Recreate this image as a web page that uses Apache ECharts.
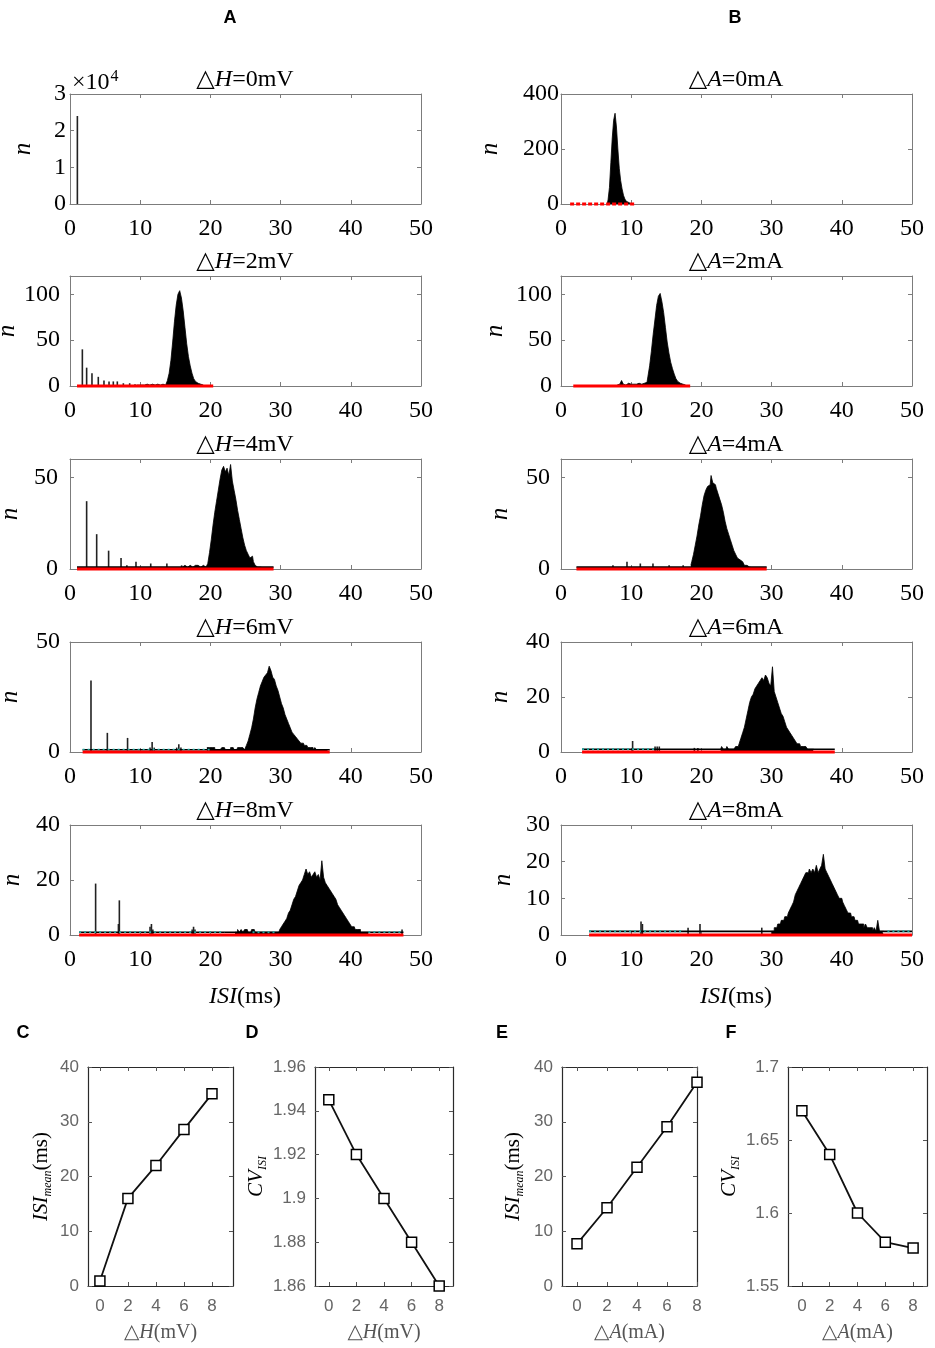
<!DOCTYPE html>
<html>
<head>
<meta charset="utf-8">
<title>ISI histograms</title>
<script src="https://cdn.jsdelivr.net/npm/echarts@6/dist/echarts.min.js"></script>
<style>
html, body { margin: 0; padding: 0; background: #fff; }
#main { width: 935px; height: 1348px; }
</style>
</head>
<body>
<div id="main"></div>
<script>
var SERIF = "'Liberation Serif','Times New Roman','DejaVu Serif',serif";
var SANS = "'Liberation Sans',Arial,'DejaVu Sans',sans-serif";

// ---------- A : ISI histograms for ΔH ----------
// ΔH = 0 mV (n in units of 10^4)
var h0SpikeX = [1.05];
var h0SpikeY = [2.4];

// ΔH = 2 mV
var h2SpikeX = [1.76, 2.37, 3.13, 4.03, 4.84, 5.56, 6.17, 6.74, 7.6, 8.5, 9.26];
var h2SpikeY = [40, 20, 14, 10, 6, 5, 5, 5, 3, 3, 2];
var h2BinStart = 9.5;
var h2Counts = [1, 1, 2, 1, 1, 1, 2, 1, 1, 2, 1, 2, 2, 1, 2, 2,
  1, 2, 6, 14, 28, 48, 70, 88, 100, 104, 96, 82, 64, 46, 32, 22, 14, 8, 5, 3, 2, 1, 1];
var h2Range = [1.0, 20.4];

// ΔH = 4 mV
var h4SpikeX = [2.37, 3.8, 5.5, 7.27, 8.1, 9.4, 11.5, 13.8, 15.9];
var h4SpikeY = [37, 19, 10, 6, 2, 4, 3, 3, 2];
var h4BinStart = 16.0;
var h4Counts = [1, 2, 1, 1, 2, 2, 1, 2, 2, 2, 1, 2, 2, 1,
  1, 3, 9, 16, 24, 31, 37, 43, 49, 54, 56, 53, 55, 51, 57, 48, 43, 38, 32, 27, 22, 17, 13, 10, 8, 6, 7, 4, 2, 1, 1, 1];
var h4Range = [1.0, 29.0];

// ΔH = 6 mV
var h6SpikeX = [2.99, 5.32, 8.2, 11.4, 11.7, 12.0, 15.2, 15.5, 15.8];
var h6SpikeY = [32.5, 8.7, 6.4, 2, 4.5, 2, 2, 3.5, 2];
var h6BinStart = 19.5;
var h6Counts = [2, 2, 2, 2, 2, 1, 1, 1, 1, 2, 2, 1, 1, 1, 2, 2, 1, 1, 2, 2, 2, 2,
  1, 3, 5, 8, 11, 15, 20, 24, 27, 30, 32, 34, 35, 36, 39, 37, 34, 33, 30, 28,
  25, 22, 20, 17, 15, 13, 11, 9, 8, 7, 6, 5, 4, 4, 3, 3, 2, 2, 2, 1, 2, 1, 1, 1, 1, 1, 1, 1];
var h6Range = [1.8, 37.0];
var h6Cyan = [[1.8, 20.0]];

// ΔH = 8 mV
var h8SpikeX = [3.65, 6.9, 7.03, 11.4, 11.6, 11.8, 17.4, 17.6, 17.8, 47.3];
var h8SpikeY = [18.7, 4, 12.6, 3, 4, 2, 2, 3, 2, 2];
var h8BinStart = 23.5;
var h8Counts = [1, 1, 2, 1, 2, 1, 2, 2, 1, 1, 2, 2, 1, 1, 1, 1, 1, 1, 1, 1, 1, 1, 1, 1,
  1, 1, 2, 3, 4, 5, 6, 8, 9, 11, 13, 14, 16, 18, 19, 20, 22, 24, 22, 23,
  21, 22, 23, 21, 22, 20, 27, 21, 19, 18, 17, 16, 15, 14, 13, 11, 10, 9, 8, 7,
  6, 5, 4, 3, 3, 2, 2, 2, 1, 1, 1, 1, 1];
var h8Range = [1.3, 47.5];
var h8Cyan = [[1.3, 22.0], [26.0, 29.5], [42.5, 47.5]];

// ---------- B : ISI histograms for ΔA ----------
// ΔA = 0 mA (bins of 0.2 ms)
var a0BinStart = 6.6;
var a0Counts = [3, 15, 60, 150, 240, 305, 330, 280, 200, 130, 85, 55, 32, 18, 10, 5, 2, 1];
var a0Range = [1.3, 10.5];

// ΔA = 2 mA
var a2BinStart = 8.0;
var a2Counts = [1, 2, 1, 6, 2, 1, 3, 1, 2, 2, 1, 2, 3, 2, 2, 3,
  2, 4, 10, 22, 38, 56, 72, 88, 98, 101, 92, 80, 64, 48, 36, 26, 19, 13, 8, 5, 3, 2, 1, 1];
var a2Range = [1.75, 18.4];

// ΔA = 4 mA
var a4SpikeX = [7.4, 9.4, 11.3, 13.1, 15.4, 17.4];
var a4SpikeY = [2, 4, 3, 3, 2, 2];
var a4BinStart = 18.5;
var a4Counts = [2, 4, 8, 13, 18, 24, 29, 35, 40, 43, 45, 46, 51, 47, 46, 44, 41, 38, 35, 31,
  26, 22, 19, 16, 13, 10, 8, 6, 5, 4, 3, 2, 2, 1, 1];
var a4Range = [2.2, 29.3];

// ΔA = 6 mA
var a6SpikeX = [10.2, 13.4, 13.7, 14.0, 19.0, 19.5];
var a6SpikeY = [4, 2, 2, 2, 1.5, 1.5];
var a6BinStart = 22.75;
var a6Counts = [1, 2, 1, 1, 2, 1, 1,
  1, 1, 2, 2, 3, 5, 7, 9, 12, 15, 18, 20, 21, 23, 24, 25, 26, 27, 26, 28,
  27, 25, 24, 31, 22, 20, 18, 16, 14, 13, 11, 9, 8, 7, 6, 5, 4, 3, 3, 2, 2, 2, 2, 1, 1, 1, 1];
var a6Range = [3.0, 39.0];
var a6Cyan = [[3.0, 13.5]];

// ΔA = 8 mA
var a8SpikeX = [11.4, 11.6, 18.1, 19.8, 28.6];
var a8SpikeY = [3.7, 3.0, 2, 3, 2];
var a8BinStart = 30.0;
var a8Counts = [1, 1, 2, 2, 3, 3, 4, 4, 5, 5, 6, 7, 8, 9, 11, 12, 13, 14, 15, 16,
  17, 17, 18, 17, 18, 17, 19, 17, 18, 19, 22, 18, 17, 16, 15, 14, 13, 12, 11, 10,
  10, 9, 8, 7, 6, 6, 5, 5, 4, 4, 3, 3, 3, 2, 3, 2, 2, 2, 1, 2, 1, 4, 1, 1, 1];
var a8Range = [4.0, 50.0];
var a8Cyan = [[4.0, 17.2], [46.5, 50.0]];

// ---------- C-F : mean ISI and CV ----------
var levels = [0, 2, 4, 6, 8];
var hIsiMean = [0.9, 16.0, 22.0, 28.6, 35.1];
var hCvIsi = [1.945, 1.92, 1.90, 1.88, 1.86];
var aIsiMean = [7.7, 14.3, 21.7, 29.1, 37.2];
var aCvIsi = [1.67, 1.64, 1.60, 1.58, 1.576];

// ---------- layout ----------
var colLeft = [70, 561];
var rowTop = [94, 276, 459, 642, 825];

var histPanels = [
  {col: 0, row: 0, sym: 'H', label: '0mV', yMax: 3, yInt: 1, lblGap: 4, nGap: 34, spX: h0SpikeX, spY: h0SpikeY},
  {col: 0, row: 1, sym: 'H', label: '2mV', yMax: 120, yInt: 50, lblGap: 10, nGap: 48, spX: h2SpikeX, spY: h2SpikeY, start: h2BinStart, step: 0.25, counts: h2Counts, range: h2Range},
  {col: 0, row: 2, sym: 'H', label: '4mV', yMax: 60, yInt: 50, lblGap: 12, nGap: 47, spX: h4SpikeX, spY: h4SpikeY, start: h4BinStart, step: 0.25, counts: h4Counts, range: h4Range, floor: true},
  {col: 0, row: 3, sym: 'H', label: '6mV', yMax: 50, yInt: 50, lblGap: 10, nGap: 47, spX: h6SpikeX, spY: h6SpikeY, start: h6BinStart, step: 0.25, counts: h6Counts, range: h6Range, floor: true, cyan: h6Cyan},
  {col: 0, row: 4, sym: 'H', label: '8mV', yMax: 40, yInt: 20, lblGap: 10, nGap: 45, spX: h8SpikeX, spY: h8SpikeY, start: h8BinStart, step: 0.25, counts: h8Counts, range: h8Range, floor: true, cyan: h8Cyan},
  {col: 1, row: 0, sym: 'A', label: '0mA', yMax: 400, yInt: 200, lblGap: 2, nGap: 58, start: a0BinStart, step: 0.2, counts: a0Counts, range: a0Range, dotted: true},
  {col: 1, row: 1, sym: 'A', label: '2mA', yMax: 120, yInt: 50, lblGap: 9, nGap: 53, start: a2BinStart, step: 0.25, counts: a2Counts, range: a2Range},
  {col: 1, row: 2, sym: 'A', label: '4mA', yMax: 60, yInt: 50, lblGap: 11, nGap: 48, spX: a4SpikeX, spY: a4SpikeY, start: a4BinStart, step: 0.25, counts: a4Counts, range: a4Range, floor: true},
  {col: 1, row: 3, sym: 'A', label: '6mA', yMax: 40, yInt: 20, lblGap: 11, nGap: 48, spX: a6SpikeX, spY: a6SpikeY, start: a6BinStart, step: 0.25, counts: a6Counts, range: a6Range, floor: true, cyan: a6Cyan},
  {col: 1, row: 4, sym: 'A', label: '8mA', yMax: 30, yInt: 10, lblGap: 11, nGap: 45, spX: a8SpikeX, spY: a8SpikeY, start: a8BinStart, step: 0.25, counts: a8Counts, range: a8Range, floor: true, cyan: a8Cyan}
];

var linePanels = [
  {left: 88, width: 145, xMin: -0.85, xMax: 9.5, yMin: 0, yMax: 40, yInt: 10, data: hIsiMean, sym: 'H', unit: 'mV', kind: 'isi', nGap: 34},
  {left: 315, width: 138, xMin: -1, xMax: 9, yMin: 1.86, yMax: 1.96, yInt: 0.02, data: hCvIsi, sym: 'H', unit: 'mV', kind: 'cv', nGap: 46},
  {left: 562, width: 135, xMin: -1, xMax: 8, yMin: 0, yMax: 40, yInt: 10, data: aIsiMean, sym: 'A', unit: 'mA', kind: 'isi', nGap: 36},
  {left: 788, width: 139, xMin: -1, xMax: 9, yMin: 1.55, yMax: 1.7, yInt: 0.05, data: aCvIsi, sym: 'A', unit: 'mA', kind: 'cv', nGap: 46}
];

var grids = [], xAxes = [], yAxes = [], series = [], graphics = [];

function pairs(xs, ys) {
  return xs.map(function (x, i) { return [x, ys[i]]; });
}
function bins(start, step, counts) {
  return counts.map(function (c, i) { return [+(start + i * step).toFixed(3), c]; });
}

var histLine = {show: true, onZero: false, lineStyle: {color: '#7c7c7c', width: 1}};
var histTick = {show: true, inside: true, length: 4, lineStyle: {color: '#7c7c7c'}};
var serifLabel = {color: '#000', fontFamily: SERIF, fontSize: 24};

histPanels.forEach(function (p) {
  var gi = grids.length;
  var left = colLeft[p.col], top = rowTop[p.row];
  grids.push({left: left, top: top, width: 351, height: 110, containLabel: false, outerBoundsMode: 'none'});
  xAxes.push({gridIndex: gi, type: 'value', min: 0, max: 50, interval: 10, position: 'bottom',
    axisLine: histLine, axisTick: histTick, splitLine: {show: false},
    axisLabel: Object.assign({margin: 13}, serifLabel)});
  xAxes.push({gridIndex: gi, type: 'value', min: 0, max: 50, interval: 10, position: 'top',
    axisLine: histLine, axisTick: histTick, splitLine: {show: false}, axisLabel: {show: false}});
  yAxes.push({gridIndex: gi, type: 'value', min: 0, max: p.yMax, interval: p.yInt, position: 'left',
    axisLine: histLine, axisTick: histTick, splitLine: {show: false},
    axisLabel: Object.assign({margin: p.lblGap}, serifLabel),
    name: 'n', nameLocation: 'middle', nameRotate: 90, nameGap: p.nGap,
    nameTextStyle: {fontFamily: SERIF, fontStyle: 'italic', fontSize: 25, color: '#000'}});
  yAxes.push({gridIndex: gi, type: 'value', min: 0, max: p.yMax, interval: p.yInt, position: 'right',
    axisLine: histLine, axisTick: histTick, splitLine: {show: false}, axisLabel: {show: false}});

  var ax = {xAxisIndex: 2 * gi, yAxisIndex: 2 * gi, silent: true};
  if (p.spX) {
    series.push(Object.assign({type: 'bar', data: pairs(p.spX, p.spY), barWidth: 1.6,
      itemStyle: {color: '#222'}}, ax));
  }
  if (p.counts) {
    // binned counts drawn as a filled step outline
    series.push(Object.assign({type: 'line', data: bins(p.start, p.step, p.counts), step: 'middle', symbol: 'none',
      lineStyle: {color: '#000', width: 0.8}, areaStyle: {color: '#000', opacity: 1, origin: 'start'}}, ax));
  }
  if (p.floor) {
    series.push(Object.assign({type: 'line', data: [[p.range[0], 1], [p.range[1], 1]], symbol: 'none', clip: false,
      lineStyle: {color: '#000', width: 1.6}}, ax));
  }
  (p.cyan || []).forEach(function (seg) {
    series.push(Object.assign({type: 'line', data: [[seg[0], 1], [seg[1], 1]], symbol: 'none', clip: false,
      lineStyle: {color: '#22a8a0', width: 2, type: [2, 3]}}, ax));
  });
  if (p.range) {
    series.push(Object.assign({type: 'line', data: [[p.range[0], 0], [p.range[1], 0]], symbol: 'none', clip: false,
      lineStyle: {color: '#ff0000', width: 3, type: p.dotted ? [4, 2] : 'solid'}}, ax));
  }

  graphics.push({type: 'text', x: left + 175, y: top - 14, silent: true,
    style: {text: '△{i|' + p.sym + '}=' + p.label, align: 'center', verticalAlign: 'middle',
      fontFamily: SERIF, fontSize: 24, fill: '#000',
      rich: {i: {fontFamily: SERIF, fontSize: 24, fontStyle: 'italic', fill: '#000'}}}});
});

var lineAxisColor = '#2a2a2a';
var lineLine = {show: true, onZero: false, lineStyle: {color: lineAxisColor, width: 1.2}};
var lineTickY = {show: true, inside: true, length: 4, lineStyle: {color: '#555'}};
var lineTickX = {show: true, inside: true, length: 4, lineStyle: {color: '#555'}, customValues: levels};
var grayLabel = {color: '#666', fontFamily: SANS, fontSize: 17};
var nameRich = {
  i: {fontFamily: SERIF, fontStyle: 'italic', fontSize: 21, color: '#000', lineHeight: 26, verticalAlign: 'middle'},
  s: {fontFamily: SERIF, fontStyle: 'italic', fontSize: 12, color: '#000', lineHeight: 26, verticalAlign: 'bottom'},
  n: {fontFamily: SERIF, fontSize: 21, color: '#000', lineHeight: 26, verticalAlign: 'middle'}
};

linePanels.forEach(function (p) {
  var gi = grids.length;
  grids.push({left: p.left, top: 1067, width: p.width, height: 219, containLabel: false, outerBoundsMode: 'none'});
  xAxes.push({gridIndex: gi, type: 'value', min: p.xMin, max: p.xMax, position: 'bottom',
    axisLine: lineLine, axisTick: lineTickX, splitLine: {show: false},
    axisLabel: Object.assign({margin: 12, customValues: levels}, grayLabel),
    name: '△{i|' + p.sym + '}(' + p.unit + ')', nameLocation: 'middle', nameGap: 37,
    nameTextStyle: {fontFamily: SERIF, fontSize: 20, color: '#555',
      rich: {i: {fontFamily: SERIF, fontStyle: 'italic', fontSize: 20, color: '#555'}}}});
  xAxes.push({gridIndex: gi, type: 'value', min: p.xMin, max: p.xMax, position: 'top',
    axisLine: lineLine, axisTick: lineTickX, splitLine: {show: false}, axisLabel: {show: false}});
  yAxes.push({gridIndex: gi, type: 'value', min: p.yMin, max: p.yMax, interval: p.yInt, position: 'left',
    axisLine: lineLine, axisTick: lineTickY, splitLine: {show: false},
    axisLabel: Object.assign({margin: 9}, grayLabel),
    name: p.kind === 'isi' ? '{i|ISI}{s|mean}{n|(ms)}' : '{i|CV}{s|ISI}',
    nameLocation: 'middle', nameRotate: 90, nameGap: p.nGap,
    nameTextStyle: {rich: nameRich}});
  yAxes.push({gridIndex: gi, type: 'value', min: p.yMin, max: p.yMax, interval: p.yInt, position: 'right',
    axisLine: lineLine, axisTick: lineTickY, splitLine: {show: false}, axisLabel: {show: false}});
  series.push({type: 'line', xAxisIndex: 2 * gi, yAxisIndex: 2 * gi, data: pairs(levels, p.data),
    clip: false, symbol: 'rect', symbolSize: 10, silent: true,
    lineStyle: {color: '#111', width: 1.8},
    itemStyle: {color: '#fff', borderColor: '#000', borderWidth: 1.5}});
});

// panel letters and shared labels
[['A', 230, 18], ['B', 735, 18], ['C', 23, 1033], ['D', 252, 1033], ['E', 502, 1033], ['F', 731, 1033]].forEach(function (t) {
  graphics.push({type: 'text', x: t[1], y: t[2], silent: true,
    style: {text: t[0], align: 'center', verticalAlign: 'middle', fontFamily: SANS, fontWeight: 'bold', fontSize: 18, fill: '#000'}});
});
graphics.push({type: 'text', x: 72, y: 83, silent: true,
  style: {text: '×10{sup|4}', align: 'left', verticalAlign: 'middle', fontFamily: SERIF, fontSize: 24, fill: '#000',
    rich: {sup: {fontFamily: SERIF, fontSize: 16, fill: '#000', verticalAlign: 'top', padding: [0, 0, 12, 1]}}}});
[245, 736].forEach(function (cx) {
  graphics.push({type: 'text', x: cx, y: 997, silent: true,
    style: {text: '{i|ISI}(ms)', align: 'center', verticalAlign: 'middle', fontFamily: SERIF, fontSize: 24, fill: '#000',
      rich: {i: {fontFamily: SERIF, fontStyle: 'italic', fontSize: 24, fill: '#000'}}}});
});

var chart = echarts.init(document.getElementById('main'));
chart.setOption({
  animation: false,
  backgroundColor: '#fff',
  grid: grids,
  xAxis: xAxes,
  yAxis: yAxes,
  series: series,
  graphic: graphics
});
</script>
</body>
</html>
